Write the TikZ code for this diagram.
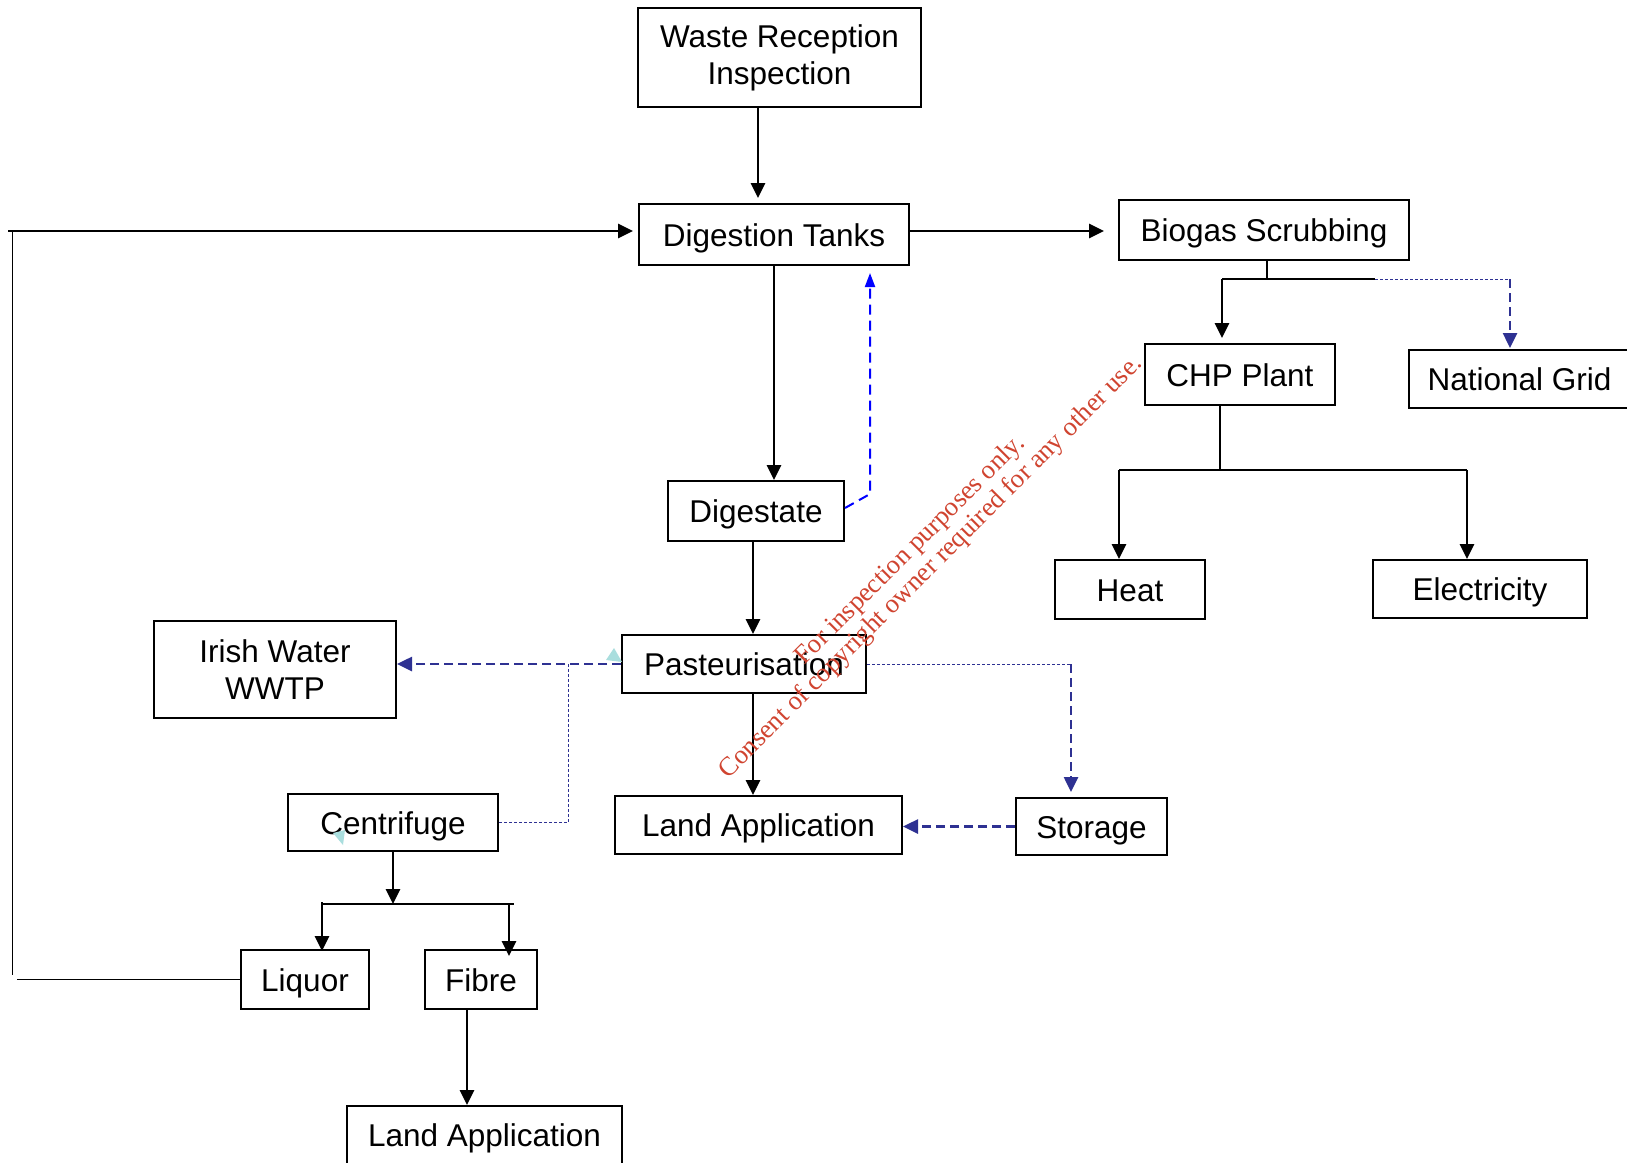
\documentclass[tikz,border=0pt]{standalone}
\usepackage{fontspec}
\setmainfont{Liberation Sans}
\newfontfamily\wmfont{Liberation Serif}
\usetikzlibrary{arrows.meta,calc}
\definecolor{navy}{RGB}{46,49,146}
\definecolor{wmred}{RGB}{208,68,48}
\definecolor{tricyan}{RGB}{170,222,222}
\begin{document}
\begin{tikzpicture}[x=1pt,y=-1pt,
  box/.style={draw=black,line width=2pt,inner sep=0pt,align=center,font=\fontsize{31.5}{37}\selectfont},
  onel/.style={text height=23.6pt,text depth=0pt},
  arr/.style={line width=2.8pt,-{Triangle[length=15pt,width=14pt]}},
  thinl/.style={line width=1.2pt},
  midl/.style={line width=1.6pt},
  bluearr/.style={blue,line width=2pt,dash pattern=on 10pt off 6pt,-{Triangle[length=14pt,width=10pt]}},
  navyarr/.style={navy,line width=2.6pt,dash pattern=on 9pt off 5pt,-{Triangle[length=15pt,width=14pt]}},
  navydot/.style={navy,line width=1pt,dash pattern=on 3pt off 2pt},
  wm/.style={text=wmred,inner sep=0pt,font=\wmfont\fontsize{26.6}{28}\selectfont}
]
\useasboundingbox (0,0) rectangle (1627,1162);
\fill[white] (0,0) rectangle (1627,1162);

% boxes
\node[box,minimum width=283pt,minimum height=99pt] (waste) at (779.5,57.5) {Waste Reception\\Inspection};
\node[box,onel,minimum width=270pt,minimum height=61pt] (dig) at (774,234.5) {Digestion Tanks};
\node[box,onel,minimum width=290pt,minimum height=60pt] (bio) at (1264,230) {Biogas Scrubbing};
\node[box,onel,minimum width=190pt,minimum height=61pt] (chp) at (1240,374.5) {CHP Plant};
\node[box,onel,minimum width=221pt,minimum height=58pt] (grid) at (1519.5,379) {National Grid};
\node[box,onel,minimum width=176pt,minimum height=60pt] (digestate) at (756,511) {Digestate};
\node[box,onel,minimum width=150pt,minimum height=59pt] (heat) at (1130,589.5) {Heat};
\node[box,onel,minimum width=214pt,minimum height=58pt] (elec) at (1480,589) {Electricity};
\node[box,minimum width=242pt,minimum height=97pt] (irish) at (275,669.5) {Irish Water\\WWTP};
\node[box,onel,minimum width=244pt,minimum height=58pt] (past) at (744,664) {Pasteurisation};
\node[box,onel,minimum width=210pt,minimum height=57pt] (cent) at (393,822.5) {Centrifuge};
\node[box,onel,minimum width=287pt,minimum height=58pt] (land1) at (758.5,825) {Land Application};
\node[box,onel,minimum width=151pt,minimum height=57pt] (stor) at (1091.5,826.5) {Storage};
\node[box,onel,minimum width=128pt,minimum height=59pt] (liq) at (305,979.5) {Liquor};
\node[box,onel,minimum width=112pt,minimum height=59pt] (fib) at (481,979.5) {Fibre};
\node[box,onel,minimum width=275pt,minimum height=58pt] (land2) at (484.5,1135) {Land Application};

% waste -> digestion
\draw[arr,shorten >=5pt] ([xshift=-21.5pt]waste.south) -- ([xshift=-21.5pt]waste.south |- dig.north);

% liquor return loop
\coordinate (lt) at (8,231);
\draw[arr,shorten >=5pt] (lt) -- (lt -| dig.west);
\coordinate (lv1) at (12.5,231);
\coordinate (lv2) at (12.5,975);
\draw[thinl] (lv1) -- (lv2);
\coordinate (lb) at (17,979.5);
\draw[thinl] (lb) -- (lb -| liq.west);

% digestion -> biogas
\draw[arr,shorten >=14pt] ([yshift=3.5pt]dig.east) -- ([yshift=3.5pt]dig.east -| bio.west);

% biogas tree
\coordinate (bj) at (1267,279);
\coordinate (b1) at (1222,279);
\coordinate (b2) at (1375,279);
\coordinate (b3) at (1510,279);
\draw[thinl] (bj |- bio.south) -- (bj);
\draw[midl] (b1) -- (b2);
\draw[navydot] (b2) -- (b3);
\draw[arr,shorten >=5pt] (b1) -- (b1 |- chp.north);
\draw[navyarr,shorten >=1pt] (b3) -- (b3 |- grid.north);

% CHP tree
\coordinate (cj) at (1220,470);
\coordinate (c1) at (1119,470);
\coordinate (c2) at (1467,470);
\draw[thinl] (cj |- chp.south) -- (cj);
\draw[midl] (c1) -- (c2);
\draw[arr] (c1) -- (c1 |- heat.north);
\draw[arr] (c2) -- (c2 |- elec.north);

% digestion -> digestate
\draw[arr] (dig.south) -- (dig.south |- digestate.north);
% digestate -> digestion (recirculation)
\coordinate (dd) at (870,494);
\draw[bluearr,shorten >=7pt] ([yshift=3pt]digestate.east) -- (dd) -- (dd |- dig.south);

% digestate -> pasteurisation -> land application
\draw[arr] ([xshift=-3pt]digestate.south) -- ([xshift=-3pt]digestate.south |- past.north);
\draw[arr] ([xshift=9pt]past.south) -- ([xshift=9pt]past.south |- land1.north);

% pasteurisation -> Irish Water
\draw[navyarr] (past.west) -- (past.west -| irish.east);
% centrifuge dotted link
\coordinate (cd) at (568,664);
\draw[navydot] (cent.east) -- (cent.east -| cd) -- (cd);

% pasteurisation -> storage -> land application
\coordinate (ps) at (1071,664);
\draw[navydot] (past.east) -- (ps);
\draw[navyarr,shorten >=5pt] (ps) -- (ps |- stor.north);
\draw[navyarr] (stor.west) -- (stor.west -| land1.east);

% centrifuge tree
\coordinate (fj) at (393,904);
\draw[arr] (cent.south) -- (fj);
\coordinate (f1) at (322,902);
\coordinate (f0) at (322,904);
\coordinate (f2) at (509,904);
\coordinate (f3) at (514,904);
\draw[midl] (f0) -- (f3);
\draw[arr,shorten >=-2pt] (f1) -- (f1 |- liq.north);
\draw[arr,shorten >=-7pt] (f2) -- (f2 |- fib.north);

% fibre -> land application
\draw[arr] ([xshift=-14pt]fib.south) -- ([xshift=-14pt]fib.south |- land2.north);

% small cyan marks
\fill[tricyan] (606,660) -- (614,648) -- (622,662) -- cycle;
\fill[tricyan] (333,833) -- (345,830) -- (343,845) -- cycle;

% watermark
\node[wm,anchor=base,rotate=45] (wm1) at (915,555) {For inspection purposes only.};
\node[wm,anchor=base,rotate=45] (wm2) at (936,572) {Consent of copyright owner required for any other use.};
\end{tikzpicture}
\end{document}
